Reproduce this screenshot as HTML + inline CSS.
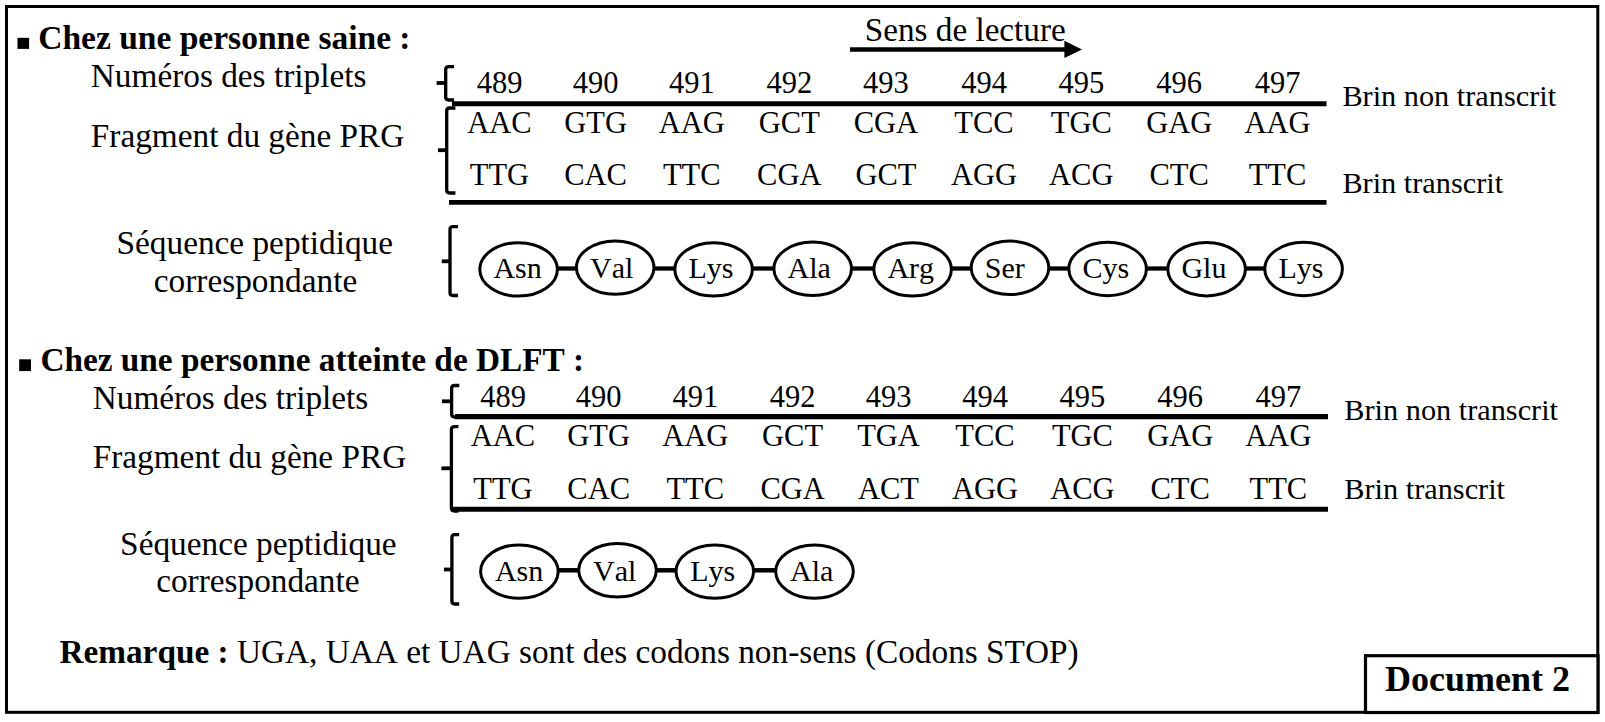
<!DOCTYPE html>
<html><head><meta charset="utf-8"><title>Document 2</title><style>
html,body{margin:0;padding:0;background:#fff;width:1605px;height:722px;overflow:hidden;}
svg{display:block;}
text{font-family:"Liberation Serif", serif;fill:#000;font-kerning:none;}
</style></head><body>
<svg width="1605" height="722" viewBox="0 0 1605 722">
<rect x="6.5" y="6.5" width="1591.3" height="705.8" fill="none" stroke="#000" stroke-width="3"/>
<rect x="1365.5" y="655.7" width="232.5" height="56.8" fill="#fff" stroke="#000" stroke-width="3.2"/>
<text x="1385.00" y="690.60" font-size="36" font-weight="bold">Document 2</text>
<rect x="17.5" y="37.8" width="11.6" height="11.1" fill="#000"/>
<text x="38.30" y="49.00" font-size="33.5" font-weight="bold">Chez une personne saine :</text>
<text x="864.80" y="41.00" font-size="33.2">Sens de lecture</text>
<line x1="850" y1="49.5" x2="1066" y2="49.5" stroke="#000" stroke-width="4.4"/>
<path d="M1064.4,40.8 L1082,49.5 L1064.4,58 Z" fill="#000" stroke="#000" stroke-width="0"/>
<text x="90.80" y="87.00" font-size="33.3">Numéros des triplets</text>
<text x="90.80" y="147.00" font-size="33.3">Fragment du gène PRG</text>
<text x="499.50" y="92.60" font-size="30.5" text-anchor="middle">489</text>
<text x="499.50" y="133.00" font-size="30.5" text-anchor="middle">AAC</text>
<text x="499.50" y="185.30" font-size="30.5" text-anchor="middle">TTG</text>
<text x="595.60" y="92.60" font-size="30.5" text-anchor="middle">490</text>
<text x="595.60" y="133.00" font-size="30.5" text-anchor="middle">GTG</text>
<text x="595.60" y="185.30" font-size="30.5" text-anchor="middle">CAC</text>
<text x="691.80" y="92.60" font-size="30.5" text-anchor="middle">491</text>
<text x="691.80" y="133.00" font-size="30.5" text-anchor="middle">AAG</text>
<text x="691.80" y="185.30" font-size="30.5" text-anchor="middle">TTC</text>
<text x="789.30" y="92.60" font-size="30.5" text-anchor="middle">492</text>
<text x="789.30" y="133.00" font-size="30.5" text-anchor="middle">GCT</text>
<text x="789.30" y="185.30" font-size="30.5" text-anchor="middle">CGA</text>
<text x="885.90" y="92.60" font-size="30.5" text-anchor="middle">493</text>
<text x="885.90" y="133.00" font-size="30.5" text-anchor="middle">CGA</text>
<text x="885.90" y="185.30" font-size="30.5" text-anchor="middle">GCT</text>
<text x="984.00" y="92.60" font-size="30.5" text-anchor="middle">494</text>
<text x="984.00" y="133.00" font-size="30.5" text-anchor="middle">TCC</text>
<text x="984.00" y="185.30" font-size="30.5" text-anchor="middle">AGG</text>
<text x="1081.30" y="92.60" font-size="30.5" text-anchor="middle">495</text>
<text x="1081.30" y="133.00" font-size="30.5" text-anchor="middle">TGC</text>
<text x="1081.30" y="185.30" font-size="30.5" text-anchor="middle">ACG</text>
<text x="1179.20" y="92.60" font-size="30.5" text-anchor="middle">496</text>
<text x="1179.20" y="133.00" font-size="30.5" text-anchor="middle">GAG</text>
<text x="1179.20" y="185.30" font-size="30.5" text-anchor="middle">CTC</text>
<text x="1277.50" y="92.60" font-size="30.5" text-anchor="middle">497</text>
<text x="1277.50" y="133.00" font-size="30.5" text-anchor="middle">AAG</text>
<text x="1277.50" y="185.30" font-size="30.5" text-anchor="middle">TTC</text>
<line x1="452" y1="103.85" x2="1326.5" y2="103.85" stroke="#000" stroke-width="5"/>
<line x1="449" y1="202.45" x2="1326.5" y2="202.45" stroke="#000" stroke-width="4.7"/>
<text x="1342.40" y="105.80" font-size="30.3">Brin non transcrit</text>
<text x="1342.40" y="192.60" font-size="30.3">Brin transcrit</text>
<path d="M454,66.6 L448.7,66.6 Q445.7,66.6 445.7,69.6 L445.7,97.0 Q445.7,100.0 448.7,100.0 L454,100.0" fill="none" stroke="#000" stroke-width="3.3"/>
<line x1="436.6" y1="83.0" x2="446.7" y2="83.0" stroke="#000" stroke-width="3.8"/>
<path d="M455.4,108.0 L449.7,108.0 Q446.7,108.0 446.7,111.0 L446.7,190.0 Q446.7,193.0 449.7,193.0 L455.4,193.0" fill="none" stroke="#000" stroke-width="3.3"/>
<line x1="438.0" y1="150.2" x2="447.7" y2="150.2" stroke="#000" stroke-width="3.8"/>
<text x="254.80" y="253.70" font-size="33.3" text-anchor="middle">Séquence peptidique</text>
<text x="255.50" y="291.90" font-size="33.3" text-anchor="middle">correspondante</text>
<path d="M458,226.6 L453.0,226.6 Q450.0,226.6 450.0,229.6 L450.0,292.5 Q450.0,295.5 453.0,295.5 L458,295.5" fill="none" stroke="#000" stroke-width="3.3"/>
<line x1="441.8" y1="261.3" x2="451.0" y2="261.3" stroke="#000" stroke-width="3.8"/>
<line x1="556.6" y1="268.5" x2="577.2" y2="268.5" stroke="#000" stroke-width="4.3"/>
<line x1="653.2" y1="268.5" x2="675.6" y2="268.5" stroke="#000" stroke-width="4.3"/>
<line x1="751.6" y1="268.5" x2="774.7" y2="268.5" stroke="#000" stroke-width="4.3"/>
<line x1="850.7" y1="268.5" x2="874.6" y2="268.5" stroke="#000" stroke-width="4.3"/>
<line x1="950.6" y1="268.5" x2="972" y2="268.5" stroke="#000" stroke-width="4.3"/>
<line x1="1048" y1="268.5" x2="1069.6" y2="268.5" stroke="#000" stroke-width="4.3"/>
<line x1="1145.6" y1="268.5" x2="1168.6" y2="268.5" stroke="#000" stroke-width="4.3"/>
<line x1="1244.6" y1="268.5" x2="1265.6" y2="268.5" stroke="#000" stroke-width="4.3"/>
<ellipse cx="518.6" cy="269.4" rx="38.8" ry="26.7" fill="#fff" stroke="#000" stroke-width="3"/>
<text x="493.40" y="277.80" font-size="30">Asn</text>
<ellipse cx="615.2" cy="267.6" rx="38.8" ry="26.7" fill="#fff" stroke="#000" stroke-width="3"/>
<text x="590.00" y="277.80" font-size="30">Val</text>
<ellipse cx="713.6" cy="269.4" rx="38.8" ry="26.7" fill="#fff" stroke="#000" stroke-width="3"/>
<text x="688.40" y="277.80" font-size="30">Lys</text>
<ellipse cx="812.7" cy="268.8" rx="38.8" ry="26.7" fill="#fff" stroke="#000" stroke-width="3"/>
<text x="787.50" y="277.80" font-size="30">Ala</text>
<ellipse cx="912.6" cy="269.4" rx="38.8" ry="26.7" fill="#fff" stroke="#000" stroke-width="3"/>
<text x="887.40" y="277.80" font-size="30">Arg</text>
<ellipse cx="1010" cy="267.8" rx="38.8" ry="26.7" fill="#fff" stroke="#000" stroke-width="3"/>
<text x="984.80" y="277.80" font-size="30">Ser</text>
<ellipse cx="1107.6" cy="269.0" rx="38.8" ry="26.7" fill="#fff" stroke="#000" stroke-width="3"/>
<text x="1082.40" y="277.80" font-size="30">Cys</text>
<ellipse cx="1206.6" cy="269.2" rx="38.8" ry="26.7" fill="#fff" stroke="#000" stroke-width="3"/>
<text x="1181.40" y="277.80" font-size="30">Glu</text>
<ellipse cx="1303.6" cy="269.0" rx="38.8" ry="26.7" fill="#fff" stroke="#000" stroke-width="3"/>
<text x="1278.40" y="277.80" font-size="30">Lys</text>
<rect x="19.2" y="359.3" width="11.8" height="11.8" fill="#000"/>
<text x="40.40" y="371.00" font-size="33.3" font-weight="bold">Chez une personne atteinte de DLFT :</text>
<text x="92.70" y="409.00" font-size="33.3">Numéros des triplets</text>
<text x="92.70" y="468.30" font-size="33.3">Fragment du gène PRG</text>
<text x="503.00" y="406.80" font-size="30.5" text-anchor="middle">489</text>
<text x="503.00" y="445.80" font-size="30.5" text-anchor="middle">AAC</text>
<text x="503.00" y="498.70" font-size="30.5" text-anchor="middle">TTG</text>
<text x="598.70" y="406.80" font-size="30.5" text-anchor="middle">490</text>
<text x="598.70" y="445.80" font-size="30.5" text-anchor="middle">GTG</text>
<text x="598.70" y="498.70" font-size="30.5" text-anchor="middle">CAC</text>
<text x="695.30" y="406.80" font-size="30.5" text-anchor="middle">491</text>
<text x="695.30" y="445.80" font-size="30.5" text-anchor="middle">AAG</text>
<text x="695.30" y="498.70" font-size="30.5" text-anchor="middle">TTC</text>
<text x="792.60" y="406.80" font-size="30.5" text-anchor="middle">492</text>
<text x="792.60" y="445.80" font-size="30.5" text-anchor="middle">GCT</text>
<text x="792.60" y="498.70" font-size="30.5" text-anchor="middle">CGA</text>
<text x="888.50" y="406.80" font-size="30.5" text-anchor="middle">493</text>
<text x="888.50" y="445.80" font-size="30.5" text-anchor="middle">TGA</text>
<text x="888.50" y="498.70" font-size="30.5" text-anchor="middle">ACT</text>
<text x="985.00" y="406.80" font-size="30.5" text-anchor="middle">494</text>
<text x="985.00" y="445.80" font-size="30.5" text-anchor="middle">TCC</text>
<text x="985.00" y="498.70" font-size="30.5" text-anchor="middle">AGG</text>
<text x="1082.40" y="406.80" font-size="30.5" text-anchor="middle">495</text>
<text x="1082.40" y="445.80" font-size="30.5" text-anchor="middle">TGC</text>
<text x="1082.40" y="498.70" font-size="30.5" text-anchor="middle">ACG</text>
<text x="1180.20" y="406.80" font-size="30.5" text-anchor="middle">496</text>
<text x="1180.20" y="445.80" font-size="30.5" text-anchor="middle">GAG</text>
<text x="1180.20" y="498.70" font-size="30.5" text-anchor="middle">CTC</text>
<text x="1278.40" y="406.80" font-size="30.5" text-anchor="middle">497</text>
<text x="1278.40" y="445.80" font-size="30.5" text-anchor="middle">AAG</text>
<text x="1278.40" y="498.70" font-size="30.5" text-anchor="middle">TTC</text>
<line x1="455" y1="416.6" x2="1328" y2="416.6" stroke="#000" stroke-width="5.2"/>
<line x1="452" y1="509.3" x2="1328" y2="509.3" stroke="#000" stroke-width="5.0"/>
<text x="1344.30" y="419.70" font-size="30.3">Brin non transcrit</text>
<text x="1344.30" y="498.70" font-size="30.3">Brin transcrit</text>
<path d="M459.3,385.5 L454.6,385.5 Q451.6,385.5 451.6,388.5 L451.6,414.0 Q451.6,417.0 454.6,417.0 L459.3,417.0" fill="none" stroke="#000" stroke-width="3.3"/>
<line x1="442.0" y1="401.3" x2="452.6" y2="401.3" stroke="#000" stroke-width="3.8"/>
<path d="M458.4,426.7 L454.4,426.7 Q451.4,426.7 451.4,429.7 L451.4,508.0 Q451.4,511.0 454.4,511.0 L458.4,511.0" fill="none" stroke="#000" stroke-width="3.3"/>
<line x1="441.4" y1="468.3" x2="452.4" y2="468.3" stroke="#000" stroke-width="3.8"/>
<text x="258.35" y="554.80" font-size="33.3" text-anchor="middle">Séquence peptidique</text>
<text x="257.85" y="592.30" font-size="33.3" text-anchor="middle">correspondante</text>
<path d="M459.2,534.6 L454.9,534.6 Q451.9,534.6 451.9,537.6 L451.9,601.0 Q451.9,604.0 454.9,604.0 L459.2,604.0" fill="none" stroke="#000" stroke-width="3.3"/>
<line x1="443.9" y1="569.5" x2="452.9" y2="569.5" stroke="#000" stroke-width="3.8"/>
<line x1="557.4" y1="570.3" x2="579.5" y2="570.3" stroke="#000" stroke-width="4.5"/>
<line x1="655.5" y1="570.3" x2="676.8" y2="570.3" stroke="#000" stroke-width="4.5"/>
<line x1="752.8" y1="570.3" x2="776.5" y2="570.3" stroke="#000" stroke-width="4.5"/>
<ellipse cx="519.4" cy="571.6" rx="38.8" ry="26.7" fill="#fff" stroke="#000" stroke-width="3"/>
<text x="494.90" y="581.20" font-size="30">Asn</text>
<ellipse cx="617.5" cy="570.3" rx="38.8" ry="26.7" fill="#fff" stroke="#000" stroke-width="3"/>
<text x="593.00" y="581.20" font-size="30">Val</text>
<ellipse cx="714.8" cy="571.6" rx="38.8" ry="26.7" fill="#fff" stroke="#000" stroke-width="3"/>
<text x="690.30" y="581.20" font-size="30">Lys</text>
<ellipse cx="814.5" cy="571.6" rx="38.8" ry="26.7" fill="#fff" stroke="#000" stroke-width="3"/>
<text x="790.00" y="581.20" font-size="30">Ala</text>
<text x="59.40" y="662.6" font-size="33.3"><tspan font-weight="bold">Remarque :</tspan> UGA, UAA et UAG sont des codons non-sens (Codons STOP)</text>
</svg></body></html>
